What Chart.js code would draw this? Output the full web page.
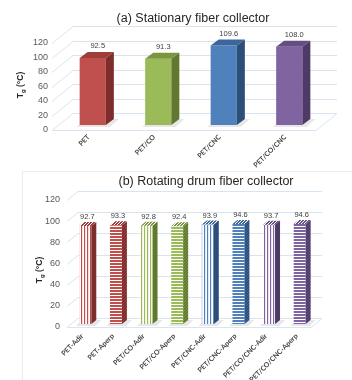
<!DOCTYPE html>
<html><head><meta charset="utf-8">
<script src="https://cdn.jsdelivr.net/npm/chart.js@4/dist/chart.umd.min.js"></script>
<style>
html,body{margin:0;padding:0;background:#fff;width:352px;height:380px;overflow:hidden}
canvas{position:absolute;left:0}
#ca{top:0}
#cb{top:170px}
</style></head><body>
<canvas id="ca" width="352" height="170"></canvas>
<canvas id="cb" width="352" height="210"></canvas>
<script>
// ---------- data ----------
const catsA = ['PET', 'PET/CO', 'PET/CNC', 'PET/CO/CNC'];
const valsA = [92.5, 91.3, 109.6, 108.0];
const catsB = ['PET-Adir', 'PET-Aperp', 'PET/CO-Adir', 'PET/CO-Aperp', 'PET/CNC-Adir', 'PET/CNC-Aperp', 'PET/CO/CNC-Adir', 'PET/CO/CNC-Aperp'];
const valsB = [92.7, 93.3, 92.8, 92.4, 93.9, 94.6, 93.7, 94.6];
const yMin = 0, yMax = 120, yStep = 20;
const titleA = '(a) Stationary fiber collector';
const titleB = '(b) Rotating drum fiber collector';

// ---------- styles ----------
const FONT = '"Liberation Sans", Arial, sans-serif';
const fronts = ['#C0504D', '#9BBB59', '#4F81BD', '#8064A2'];
const tops   = ['#9E3D3A', '#7A9640', '#3C679C', '#654E84'];
const sides  = ['#7D2E2C', '#617830', '#2D4E78', '#4D3B66'];
const tints  = ['#F6E1E0', '#EEF3E2', '#E0E9F4', '#E9E4F0'];
const gridColor = '#D9E4F1';

function mkPattern(fn, w, h) {
  const c = document.createElement('canvas'); c.width = w; c.height = h;
  const g = c.getContext('2d'); fn(g, w, h);
  return document.getElementById('cb').getContext('2d').createPattern(c, 'repeat');
}
function vStripes(col, tint) {
  return mkPattern((g) => { g.fillStyle = '#fff'; g.fillRect(0, 0, 3, 3); g.fillStyle = tint; g.fillRect(1, 0, 1, 3); g.fillStyle = col; g.fillRect(0, 0, 1, 3); }, 3, 3);
}
function hStripes(col) {
  return mkPattern((g) => { g.fillStyle = '#fff'; g.fillRect(0, 0, 3, 3); g.fillStyle = col; g.fillRect(0, 0, 3, 2); }, 3, 3);
}
function diag(col, light) {
  return mkPattern((g) => { g.fillStyle = light; g.fillRect(0, 0, 3, 3); g.fillStyle = col; for (let i = 0; i < 3; i++) { g.fillRect(i, 2 - i, 1, 1); g.fillRect(i, (4 - i) % 3, 1, 1); } }, 3, 3);
}

// ---------- 3D plugin ----------
const threeD = {
  id: 'threeD',
  beforeDatasetsDraw(chart, args, o) {
    const ctx = chart.ctx, ys = chart.scales.y;
    ctx.save();
    ctx.strokeStyle = gridColor; ctx.lineWidth = 1;
    for (let v = yMin; v <= yMax; v += yStep) {
      const y0 = Math.round(ys.getPixelForValue(v) + o.lblOff) + 0.5;
      ctx.beginPath();
      ctx.moveTo(o.gx0, y0);
      ctx.lineTo(o.gx0 + o.gdx, y0 - o.gdy);
      ctx.lineTo(o.gx1, y0 - o.gdy);
      ctx.stroke();
    }
    const yf = Math.round(ys.getPixelForValue(0) + o.lblOff) + 0.5;
    ctx.beginPath();
    ctx.moveTo(o.gx0, yf); ctx.lineTo(o.gx1 - o.gdx, yf); ctx.lineTo(o.gx1, yf - o.gdy);
    ctx.stroke();
    // floor shadows
    const meta = chart.getDatasetMeta(0);
    meta.data.forEach((bar) => {
      const p = bar.getProps(['x', 'base', 'width'], true);
      const l = p.x - p.width / 2, r = p.x + p.width / 2, b = p.base;
      ctx.fillStyle = 'rgba(120,120,120,0.18)';
      ctx.beginPath();
      ctx.moveTo(l - 3, b + 2); ctx.lineTo(r + 4, b + 2);
      ctx.lineTo(r + o.dx + 5, b - o.dy); ctx.lineTo(l + o.dx - 3, b - o.dy);
      ctx.closePath(); ctx.fill();
    });
    ctx.restore();
  },
  afterDatasetsDraw(chart, args, o) {
    const ctx = chart.ctx;
    const meta = chart.getDatasetMeta(0);
    const ds = chart.data.datasets[0];
    ctx.save();
    meta.data.forEach((bar, i) => {
      const p = bar.getProps(['x', 'y', 'base', 'width'], true);
      const l = p.x - p.width / 2, r = p.x + p.width / 2, y = p.y, b = p.base;
      ctx.fillStyle = o.topFill[i];
      ctx.beginPath();
      ctx.moveTo(l, y); ctx.lineTo(r, y); ctx.lineTo(r + o.dx, y - o.dy); ctx.lineTo(l + o.dx, y - o.dy);
      ctx.closePath(); ctx.fill();
      ctx.fillStyle = o.sideFill[i];
      ctx.beginPath();
      ctx.moveTo(r, y); ctx.lineTo(r + o.dx, y - o.dy); ctx.lineTo(r + o.dx, b - o.dy); ctx.lineTo(r, b);
      ctx.closePath(); ctx.fill();
      // value label
      ctx.fillStyle = '#404040';
      ctx.font = o.valFont;
      ctx.textAlign = 'center'; ctx.textBaseline = 'middle';
      ctx.fillText(ds.data[i].toFixed(1), p.x + o.valDx, y - o.dy - o.valDy);
    });
    ctx.restore();
  },
  afterDraw(chart, args, o) {
    const ctx = chart.ctx;
    ctx.save();
    // title
    ctx.fillStyle = '#262626';
    ctx.font = '12.5px ' + FONT;
    ctx.textAlign = 'center'; ctx.textBaseline = 'middle';
    ctx.fillText(o.title, o.tx, o.ty);
    // y axis title  T_g (°C)
    ctx.translate(o.ytx, o.yty);
    ctx.rotate(-Math.PI / 2);
    const f1 = 'bold 8.5px ' + FONT, f2 = 'bold 6px ' + FONT;
    ctx.font = f1; const wT = ctx.measureText('T').width, wR = ctx.measureText(' (°C)').width;
    ctx.font = f2; const wg = ctx.measureText('g').width;
    let x = -(wT + wg + wR) / 2;
    ctx.fillStyle = '#262626'; ctx.textAlign = 'left'; ctx.textBaseline = 'middle';
    ctx.font = f1; ctx.fillText('T', x, 0); x += wT;
    ctx.font = f2; ctx.fillText('g', x, 2.5); x += wg;
    ctx.font = f1; ctx.fillText(' (°C)', x, 0);
    ctx.restore();
    if (o.border) {
      ctx.save(); ctx.strokeStyle = '#ECECEC'; ctx.lineWidth = 1;
      ctx.beginPath(); ctx.moveTo(22.5, 210); ctx.lineTo(22.5, 1.5); ctx.lineTo(352, 1.5); ctx.stroke();
      ctx.restore();
    }
  }
};

function makeChart(id, cats, vals, cfg) {
  return new Chart(document.getElementById(id), {
    type: 'bar',
    data: { labels: cats, datasets: [{ data: vals, backgroundColor: cfg.frontFill, borderWidth: 0,
      barPercentage: cfg.barPct, categoryPercentage: 1 }] },
    plugins: [threeD],
    options: {
      responsive: false, animation: false, devicePixelRatio: 1,
      layout: { padding: { left: 0, right: cfg.padR, top: cfg.padT, bottom: 0 } },
      plugins: { legend: { display: false }, tooltip: { enabled: false }, threeD: cfg.p3d },
      scales: {
        x: {
          grid: { display: false, drawTicks: false }, border: { display: false },
          ticks: { minRotation: 45, maxRotation: 45, autoSkip: false, color: '#404040',
            font: { family: 'Lato, ' + FONT, size: cfg.xFont, weight: 'bold' }, padding: cfg.xPad, labelOffset: cfg.xLblOff },
          afterFit: (s) => { s.height = cfg.xH; }
        },
        y: {
          min: yMin, max: yMax,
          grid: { display: false, drawTicks: false }, border: { display: false },
          ticks: { stepSize: yStep, color: '#595959', font: { family: FONT, size: 9 }, padding: cfg.yPad, labelOffset: cfg.p3d.lblOff },
          afterFit: (s) => { s.width = cfg.yW; }
        }
      }
    }
  });
}

makeChart('ca', catsA, valsA, {
  frontFill: fronts, barPct: 0.4, padR: 30, padT: 38, xH: 45, yW: 60, yPad: 12,
  xFont: 7, xPad: 8, xLblOff: -4,
  p3d: { dx: 8, dy: 6, lblOff: 5, gx0: 52, gdx: 21, gdy: 17, gx1: 337,
    topFill: tops, sideFill: sides, valFont: '7.5px ' + FONT, valDx: 5, valDy: 6,
    title: titleA, tx: 193, ty: 19, ytx: 21, yty: 85, border: false }
});

const frontB = [], topB = [], sideB = [];
for (let i = 0; i < catsB.length; i++) {
  const k = Math.floor(i / 2);
  if (i % 2 === 0) {
    frontB.push(vStripes(fronts[k], tints[k]));
    sideB.push(sides[k]);
  } else {
    frontB.push(hStripes(fronts[k]));
    sideB.push(diag(sides[k], tops[k]));
  }
  topB.push(diag(tops[k], '#ffffff'));
}
makeChart('cb', catsB, valsB, {
  frontFill: frontB, barPct: 0.39, padR: 37, padT: 27, xH: 56, yW: 70, yPad: 10,
  xFont: 7, xPad: 8, xLblOff: -3,
  p3d: { dx: 5, dy: 4, lblOff: 3, gx0: 67, gdx: 11, gdy: 9, gx1: 322,
    topFill: topB, sideFill: sideB, valFont: '7.5px ' + FONT, valDx: 2, valDy: 5,
    title: titleB, tx: 206, ty: 12, ytx: 40, yty: 100, border: true }
});
</script>
</body></html>
